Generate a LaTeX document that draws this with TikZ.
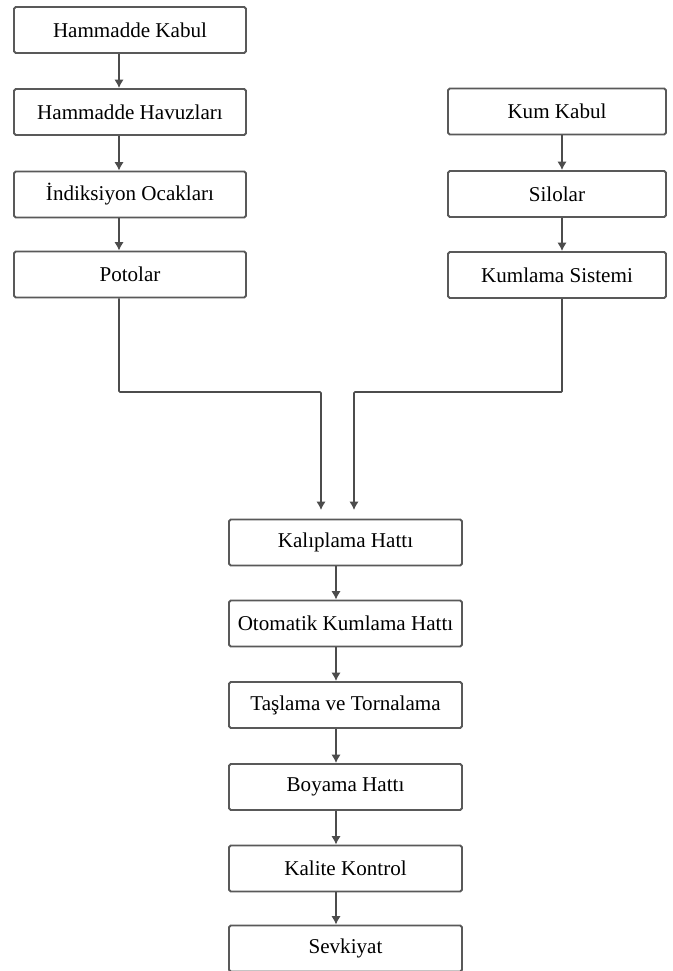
\documentclass[tikz,border=0pt]{standalone}
\usepackage{fontspec}
\setmainfont{Liberation Serif}
\usepackage{tikz}
\usetikzlibrary{arrows.meta,positioning}

\tikzset{
  box/.style={draw=black!65,line width=1.1pt,rounded corners=1pt,fill=white,
    minimum height=0.92cm,inner sep=0pt,font=\fontsize{12}{14}\selectfont},
  lbox/.style={box,minimum width=4.64cm},
  rbox/.style={box,minimum width=4.36cm},
  cbox/.style={box,minimum width=4.66cm},
  arr/.style={draw=black!70,line width=0.9pt,-{Latex[length=1.7mm,width=1.9mm]}},
}

\begin{document}
\begin{tikzpicture}[x=0.02cm,y=-0.02cm]
  \useasboundingbox (0,0) rectangle (673,971);
  % left column
  \node[lbox] (hk) at (130,30) {Hammadde Kabul};
  \node[lbox] (hh) at (130,112) {Hammadde Havuzları};
  \node[lbox] (io) at (130,194.5) {İndiksiyon Ocakları};
  \node[lbox] (pt) at (130,274.5) {Potolar};
  \draw[arr] ([xshift=-0.22cm]hk.south) -- ([xshift=-0.22cm]hh.north);
  \draw[arr] ([xshift=-0.22cm]hh.south) -- ([xshift=-0.22cm]io.north);
  \draw[arr] ([xshift=-0.22cm]io.south) -- ([xshift=-0.22cm]pt.north);
  % right column
  \node[rbox] (kk) at (557,111.5) {Kum Kabul};
  \node[rbox] (sl) at (557,194) {Silolar};
  \node[rbox] (ks) at (557,275) {Kumlama Sistemi};
  \draw[arr] ([xshift=0.1cm]kk.south) -- ([xshift=0.1cm]sl.north);
  \draw[arr] ([xshift=0.1cm]sl.south) -- ([xshift=0.1cm]ks.north);
  % main line
  \node[cbox] (kh) at (345.5,542.5) {Kalıplama Hattı};
  \node[cbox] (ok) at (345.5,623.5) {Otomatik Kumlama Hattı};
  \node[cbox] (tt) at (345.5,705) {Taşlama ve Tornalama};
  \node[cbox] (bh) at (345.5,787) {Boyama Hattı};
  \node[cbox] (kc) at (345.5,868.5) {Kalite Kontrol};
  \node[cbox] (sv) at (345.5,948.5) {Sevkiyat};
  \foreach \a/\b in {kh/ok,ok/tt,tt/bh,bh/kc,kc/sv}
    \draw[arr] ([xshift=-0.19cm]\a.south) -- ([xshift=-0.19cm]\b.north);
  % merging lines
  \coordinate (jn) at (0,392);
  \coordinate (inl) at (321,510);
  \coordinate (inr) at (354,510);
  \draw[arr,rounded corners=0.5pt] ([xshift=-0.22cm]pt.south) |- (inl |- jn) -- (inl);
  \draw[arr,rounded corners=0.5pt] ([xshift=0.1cm]ks.south) |- (inr |- jn) -- (inr);
\end{tikzpicture}
\end{document}
